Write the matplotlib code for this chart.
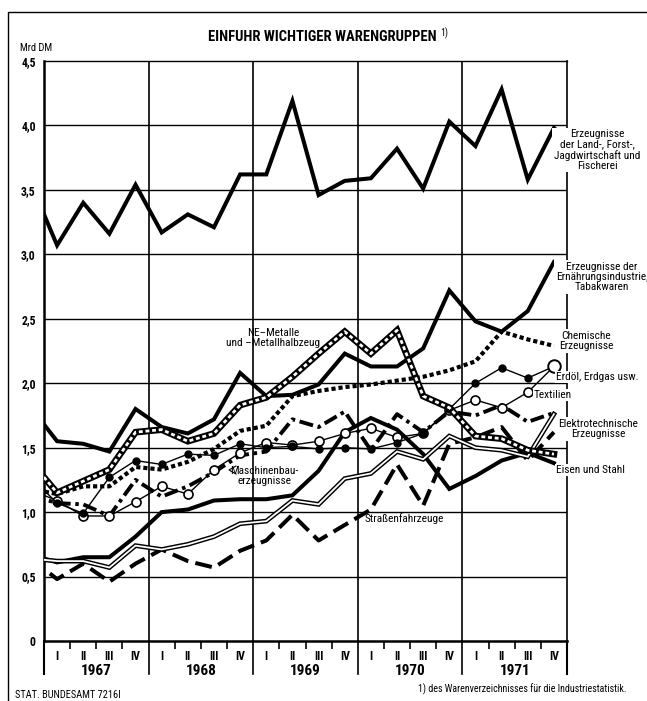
import matplotlib
matplotlib.use('Agg')
import matplotlib.pyplot as plt
from matplotlib import font_manager
from matplotlib.lines import Line2D
import matplotlib.transforms as mtransforms
import numpy as np

names = {f.name for f in font_manager.fontManager.ttflist}
FONT = 'DejaVu Sans'
for cand in ['Roboto Condensed', 'Liberation Sans Narrow', 'PT Sans Narrow', 'Archivo Narrow',
             'Barlow Semi Condensed', 'Asap Condensed']:
    if cand in names:
        FONT = cand
        break
NARROW = FONT != 'DejaVu Sans'
plt.rcParams['font.family'] = [FONT, 'DejaVu Sans']
SC = 1.0 if NARROW else 0.82   # shrink text if only a wide font is available

# ---------------- data (Mrd DM per quarter; first value = 1966 IV, then 1967 I ... 1971 IV)
years = ['1967', '1968', '1969', '1970', '1971']
quarters = ['I', 'II', 'III', 'IV']
y_ticks = [0, 0.5, 1.0, 1.5, 2.0, 2.5, 3.0, 3.5, 4.0, 4.5]
y_labels = ['0', '0,5', '1,0', '1,5', '2,0', '2,5', '3,0', '3,5', '4,0', '4,5']

land = [3.55, 3.07, 3.40, 3.16, 3.54, 3.17, 3.31, 3.21, 3.62, 3.62, 4.19, 3.46, 3.57,
        3.59, 3.82, 3.51, 4.03, 3.84, 4.28, 3.58, 3.98]
ernaehrung = [1.81, 1.55, 1.53, 1.47, 1.80, 1.66, 1.61, 1.72, 2.08, 1.90, 1.91, 1.99, 2.23,
              2.13, 2.13, 2.27, 2.72, 2.48, 2.40, 2.56, 2.94]
ne_metalle = [1.39, 1.15, 1.24, 1.33, 1.62, 1.64, 1.55, 1.61, 1.83, 1.89, 2.05, 2.23, 2.40,
              2.23, 2.41, 1.90, 1.81, 1.59, 1.57, 1.48, 1.45]
chemie = [1.18, 1.14, 1.20, 1.20, 1.35, 1.33, 1.39, 1.49, 1.63, 1.67, 1.90, 1.94, 1.97,
          1.99, 2.02, 2.05, 2.10, 2.17, 2.40, 2.34, 2.29]
erdoel = [1.27, 1.07, 0.99, 1.27, 1.40, 1.37, 1.45, 1.44, 1.53, 1.50, 1.51, 1.49, 1.50,
          1.49, 1.54, 1.61, 1.80, 2.00, 2.12, 2.04, 2.13]
textil = [1.17, 1.09, 0.97, 0.97, 1.08, 1.20, 1.14, 1.33, 1.46, 1.54, 1.52, 1.55, 1.61,
          1.65, 1.58, 1.61, 1.79, 1.87, 1.81, 1.93, 2.13]
maschinen = [1.13, 1.07, 1.06, 0.97, 1.25, 1.12, 1.20, 1.31, 1.44, 1.47, 1.72, 1.66, 1.78,
             1.48, 1.76, 1.62, 1.78, 1.75, 1.83, 1.70, 1.77]
elektro = [0.64, 0.62, 0.62, 0.57, 0.74, 0.71, 0.75, 0.81, 0.91, 0.93, 1.09, 1.06, 1.26,
           1.30, 1.47, 1.41, 1.59, 1.50, 1.48, 1.43, 1.76]
eisen = [0.67, 0.61, 0.65, 0.65, 0.81, 1.00, 1.02, 1.09, 1.10, 1.10, 1.13, 1.32, 1.62,
         1.73, 1.64, 1.45, 1.18, 1.28, 1.40, 1.46, 1.38]
strassen = [0.64, 0.48, 0.60, 0.46, 0.60, 0.71, 0.62, 0.57, 0.70, 0.78, 0.98, 0.78, 0.90,
            1.02, 1.37, 1.05, 1.53, 1.58, 1.66, 1.40, 1.62]

W, H = 647, 701
fig = plt.figure(figsize=(W / 100, H / 100), dpi=100)
fig.patch.set_facecolor('white')

def fx(x):
    return x / W

def fy(y):
    return 1 - y / H

ax_l, ax_r, ax_t, ax_b = 44, 567, 61, 641
ax = fig.add_axes([fx(ax_l), fy(ax_b), (ax_r - ax_l) / W, (ax_b - ax_t) / H])
nq = len(years) * 4
ax.set_xlim(0, nq)
ax.set_ylim(0, 4.5)
x = np.arange(len(land)) - 0.5

# grid
for v in y_ticks[1:-1]:
    ax.axhline(v, color='black', lw=1.0, zorder=1)
for k in range(1, len(years)):
    ax.axvline(4 * k, color='black', lw=1.2, zorder=1)

for s in ['left', 'bottom']:
    ax.spines[s].set_linewidth(1.8)
ax.spines['top'].set_linewidth(1.0)
ax.spines['right'].set_linewidth(1.2)

ax.set_yticks(y_ticks)
ax.set_yticklabels(y_labels, fontsize=8.5 * SC, fontweight='bold')
ax.tick_params(axis='y', length=0, pad=6)
bnds = [i for i in range(1, nq) if i % 4 != 0]
ax.set_xticks(bnds)
ax.set_xticklabels([])
ax.tick_params(axis='x', length=6, width=1.2, direction='out')

K = 'black'
def plain(vals, lw=2.9, **kw):
    ax.plot(x, vals, color=K, lw=lw, solid_joinstyle='miter', zorder=3, **kw)

# Straßenfahrzeuge (long dashes)
ax.plot(x, strassen, color=K, lw=2.9, ls=(0, (4.2, 1.8)), zorder=3)
# Elektrotechnische (double thin line)
ax.plot(x, elektro, color=K, lw=3.4, solid_joinstyle='miter', zorder=3)
ax.plot(x, elektro, color='white', lw=1.3, solid_joinstyle='miter', zorder=3.1)
# Eisen und Stahl
plain(eisen)
# Maschinenbau (dash-dot)
ax.plot(x, maschinen, color=K, lw=2.8, ls=(0, (3.6, 1.2, 0.9, 1.2)), zorder=3.2)
# Textilien (open circles)
ax.plot(x, textil, color=K, lw=1.0, marker='o', ms=6.5, mfc='white', mec=K, mew=1.2, zorder=3.4)
# Erdöl (filled dots)
ax.plot(x, erdoel, color=K, lw=1.0, marker='o', ms=5, mfc=K, mec=K, zorder=3.5)
ax.plot(x[-1], textil[-1], marker='o', ms=9, mfc='white', mec=K, mew=1.4, zorder=3.6)
# Chemische (dotted)
ax.plot(x, chemie, color=K, lw=3.0, ls=(0, (1.0, 0.7)), zorder=3.3)
# NE-Metalle (railroad)
ax.plot(x, ne_metalle, color=K, lw=4.8, solid_joinstyle='miter', zorder=3.6)
ax.plot(x, ne_metalle, color='white', lw=2.0, ls=(0, (1.4, 1.0)), zorder=3.7)
# Ernährungsindustrie
plain(ernaehrung)
# Land-, Forstwirtschaft
plain(land)

# x-axis labels
blend = mtransforms.blended_transform_factory(ax.transData, ax.transAxes)
hpx = ax_b - ax_t
for k in range(len(years) + 1):
    ax.plot([4 * k, 4 * k], [0, -33 / hpx], color=K, lw=1.5 if k in (0, len(years)) else 1.2,
            transform=blend, clip_on=False, zorder=5)
for k, yr in enumerate(years):
    for q, ql in enumerate(quarters):
        ax.text(4 * k + q + 0.5, -16 / hpx, ql, transform=blend, ha='center', va='center',
                fontsize=8.5 * SC, fontweight='bold')
    ax.text(4 * k + 2, -30 / hpx, yr, transform=blend, ha='center', va='center',
            fontsize=11 * SC, fontweight='bold')

# labels
box = dict(facecolor='white', edgecolor='none', pad=1.0)
def lab(xp, yp, s, ha='center', fs=8.2, bbox=True):
    fig.text(fx(xp), fy(yp), s, ha=ha, va='center', fontsize=fs * SC, linespacing=1.05,
             bbox=box if bbox else None, zorder=10)

lab(597, 150, 'Erzeugnisse\nder Land-, Forst-,\nJagdwirtschaft und\nFischerei')
lab(602, 277, 'Erzeugnisse der\nErnährungsindustrie,\nTabakwaren')
lab(586, 341, 'Chemische\nErzeugnisse')
lab(556, 377, 'Erdöl, Erdgas usw.', ha='left')
lab(534, 395, 'Textilien', ha='left')
lab(598, 429, 'Elektrotechnische\nErzeugnisse')
lab(556, 470, 'Eisen und Stahl', ha='left')
lab(273, 338, 'NE–Metalle\nund –Metallhalbzeug', bbox=False)
lab(264, 476, 'Maschinenbau-\nerzeugnisse', bbox=False)
lab(365, 519, 'Straßenfahrzeuge', ha='left', bbox=False)
fig.add_artist(Line2D([fx(236), fx(229), fx(236)], [fy(466), fy(470), fy(474)], color=K, lw=0.8))

fig.text(fx(322), fy(37), 'EINFUHR WICHTIGER WARENGRUPPEN', ha='center', va='center',
         fontsize=10.5 * SC, fontweight='bold')
fig.text(fx(440), fy(33), '1)', ha='left', va='center', fontsize=7 * SC)
fig.text(fx(20), fy(48), 'Mrd DM', ha='left', va='center', fontsize=7.5 * SC)
fig.text(fx(418), fy(689), '1) des Warenverzeichnisses für die Industriestatistik.',
         ha='left', va='center', fontsize=7.2 * SC)
fig.text(fx(15), fy(695), 'STAT. BUNDESAMT 7216I', ha='left', va='center', fontsize=7.5 * SC)

# outer frame
fig.add_artist(Line2D([fx(8), fx(8), fx(647)], [fy(701), fy(12), fy(12)], color=K, lw=1.0))

fig.savefig('out.png', dpi=100, facecolor='white')
